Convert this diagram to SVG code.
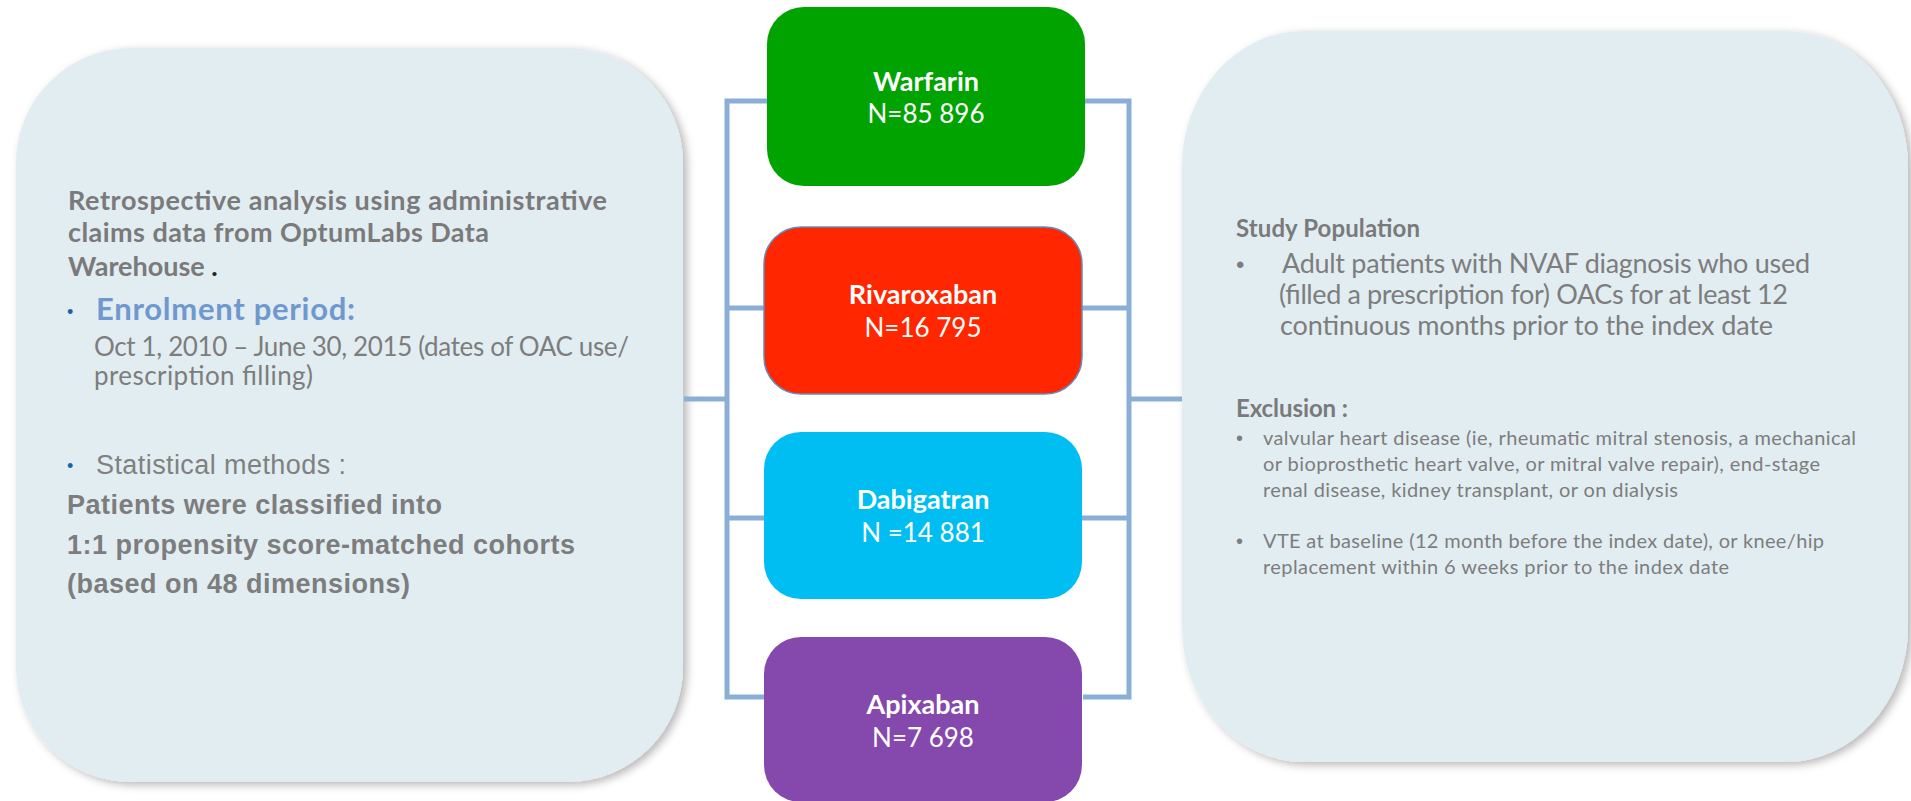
<svg xmlns="http://www.w3.org/2000/svg" width="1911" height="801" viewBox="0 0 1911 801">
<defs>
<filter id="sh" x="-5%" y="-5%" width="112%" height="112%">
<feDropShadow dx="4" dy="3" stdDeviation="4" flood-color="#000" flood-opacity="0.28"/>
</filter>
<style>
.panel{fill:#e2edf2;filter:url(#sh)}
.conn{fill:none;stroke:#8aaed6;stroke-width:5}
.my{font-family:Lato,"Open Sans",sans-serif;fill:#7d7d7d}
.myb{font-family:Lato,"Open Sans",sans-serif;font-weight:bold;fill:#7a7a7a}
.ar{font-family:"Liberation Sans",Arial,sans-serif;fill:#808080}
.arb{font-family:"Liberation Sans",Arial,sans-serif;font-weight:bold;fill:#7d7d7d}
.bl{font-family:"Liberation Sans",Arial,sans-serif;fill:#1565a8;font-size:18px}
.bg{font-family:"Liberation Sans",Arial,sans-serif;fill:#7d7d7d}
.bt{font-family:Lato,"Open Sans",sans-serif;font-weight:bold;fill:#fff;font-size:27px;text-anchor:middle}
.bn{font-family:Lato,"Open Sans",sans-serif;fill:#fff;font-size:26px;text-anchor:middle}
</style>
</defs>
<rect width="1911" height="801" fill="#fff"/>

<g id="design-panel">
<rect class="panel" x="16" y="48" width="667" height="734" rx="115" ry="115"/>
<text class="myb" x="68" y="210" font-size="27" textLength="539">Retrospective analysis using administrative</text>
<text class="myb" x="68" y="242" font-size="27" textLength="421">claims data from OptumLabs Data</text>
<text class="myb" x="68" y="276" font-size="27">Warehouse<tspan fill="#222"> .</tspan></text>
<text class="bl" x="67" y="318">•</text>
<text class="myb" x="96" y="320" font-size="31" fill="#6f98cf" style="fill:#6f98cf" textLength="259">Enrolment period:</text>
<text class="my" x="94" y="356" font-size="26" textLength="535">Oct 1, 2010 – June 30, 2015 (dates of OAC use/</text>
<text class="my" x="94" y="385" font-size="26" textLength="219">prescription filling)</text>
<text class="bl" x="67" y="472">•</text>
<text class="ar" x="96" y="474" font-size="27" textLength="250">Statistical methods :</text>
<text class="arb" x="67" y="514" font-size="27" textLength="375">Patients were classified into</text>
<text class="arb" x="67" y="554" font-size="27" textLength="508">1:1 propensity score-matched cohorts</text>
<text class="arb" x="67" y="593" font-size="27" textLength="343">(based on 48 dimensions)</text>
</g>

<g id="population-panel">
<rect class="panel" x="1182" y="31" width="726" height="731" rx="122" ry="135"/>
<text class="myb" x="1236" y="237" font-size="24" textLength="184">Study Population</text>
<text class="bg" x="1236" y="273" font-size="24">•</text>
<text class="my" x="1282" y="273" font-size="27" textLength="528">Adult patients with NVAF diagnosis who used</text>
<text class="my" x="1279" y="304" font-size="27" textLength="509">(filled a prescription for) OACs for at least 12</text>
<text class="my" x="1280" y="335" font-size="27" textLength="493">continuous months prior to the index date</text>
<text class="myb" x="1236" y="417" font-size="24" textLength="112">Exclusion :</text>
<text class="bg" x="1236" y="445" font-size="20">•</text>
<text class="my" x="1263" y="445" font-size="20" textLength="593">valvular heart disease (ie, rheumatic mitral stenosis, a mechanical</text>
<text class="my" x="1263" y="471" font-size="20" textLength="557">or bioprosthetic heart valve, or mitral valve repair), end-stage</text>
<text class="my" x="1263" y="497" font-size="20" textLength="415">renal disease, kidney transplant, or on dialysis</text>
<text class="bg" x="1236" y="548" font-size="20">•</text>
<text class="my" x="1263" y="548" font-size="20" textLength="561">VTE at baseline (12 month before the index date), or knee/hip</text>
<text class="my" x="1263" y="574" font-size="20" textLength="466">replacement within 6 weeks prior to the index date</text>
</g>

<g id="connectors">
<path class="conn" d="M767,101 H727 V697 H764"/>
<path class="conn" d="M727,308 H764"/>
<path class="conn" d="M727,518 H764"/>
<path class="conn" d="M684,399 H727"/>
<path class="conn" d="M1085,101 H1129 V697 H1083"/>
<path class="conn" d="M1082,308 H1129"/>
<path class="conn" d="M1082,518 H1129"/>
<path class="conn" d="M1129,399 H1182"/>
</g>

<g id="warfarin">
<rect x="767" y="7" width="318" height="179" rx="37" fill="#00a300"/>
<text class="bt" x="926" y="91">Warfarin</text>
<text class="bn" x="926" y="123">N=85 896</text>
</g>
<g id="rivaroxaban">
<rect x="764" y="227" width="318" height="167" rx="37" fill="#ff2600" stroke="#5f8fbf" stroke-width="1.5"/>
<text class="bt" x="923" y="304">Rivaroxaban</text>
<text class="bn" x="923" y="337">N=16 795</text>
</g>
<g id="dabigatran">
<rect x="764" y="432" width="318" height="167" rx="37" fill="#00bef2"/>
<text class="bt" x="923" y="509">Dabigatran</text>
<text class="bn" x="923" y="542">N =14 881</text>
</g>
<g id="apixaban">
<rect x="764" y="637" width="318" height="165" rx="37" fill="#8549ad"/>
<text class="bt" x="923" y="714">Apixaban</text>
<text class="bn" x="923" y="747">N=7 698</text>
</g>
</svg>
